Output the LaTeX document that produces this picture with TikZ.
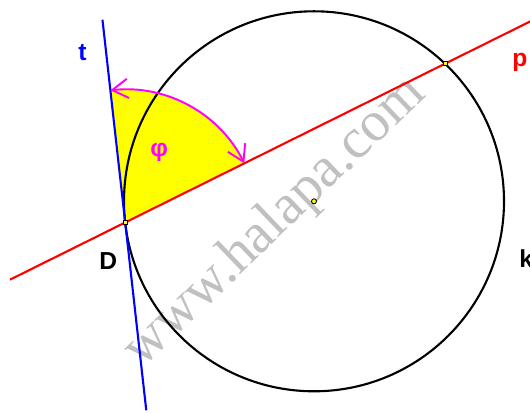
\documentclass[tikz,border=0pt]{standalone}
\usepackage{fontspec}
\setmainfont{Liberation Sans}
\newfontfamily\wmfont{Liberation Serif}
\usetikzlibrary{calc,arrows.meta}
\definecolor{angmag}{RGB}{255,0,255}
\definecolor{angyel}{RGB}{255,255,0}
\definecolor{wmgray}{RGB}{192,192,192}
\tikzset{
  lbl/.style={font=\bfseries\fontsize{14}{16}\selectfont,inner sep=0pt,anchor=base west},
  sqpt/.style={rectangle,draw,fill=angyel,minimum size=0.08cm,inner sep=0pt,line width=0.4pt},
  ctrpt/.style={circle,draw,fill=angyel,minimum size=0.1cm,inner sep=0pt,line width=0.5pt},
  ln/.style={line width=1.2pt},
  angarc/.style={line width=1.1pt,angmag,{Straight Barb[length=9pt,width=11pt]}-{Straight Barb[length=9pt,width=11pt]}}
}

\begin{document}
\begin{tikzpicture}[x=0.02cm,y=0.02cm]
\useasboundingbox (0,0) rectangle (530,412);

% Watermark, under everything
\node[text=wmgray,font=\wmfont\fontsize{32.3}{35}\selectfont,rotate=43.8,anchor=base,inner sep=0pt] (wm) at (284.9,179.8) {www.halapa.com};

% Circle k and the two points on it
\coordinate (C) at (314,210.7);
\coordinate (D) at ($(C)+(186.4:190)$);
\coordinate (E) at ($(C)+(46.4:190)$);

% Ends of p and t
\coordinate (p1) at ($(D)!-0.36!(E)$);
\coordinate (p2) at ($(D)!1.27!(E)$);
\coordinate (t1) at ($(D)+(96.4:204)$);
\coordinate (t2) at ($(D)+(276.4:189)$);

% Angle phi
\fill[angyel] (D) -- ($(D)+(26.4:133)$) arc[start angle=26.4,end angle=96.4,radius=133] -- cycle;

\draw[ln] (C) circle[radius=190];
\draw[ln,red] (p1) -- (p2);
\draw[ln,blue] (t1) -- (t2);
\draw[angarc] ($(D)+(96.4:133)$) arc[start angle=96.4,end angle=26.4,radius=133];

% Points
\node[ctrpt] (Cpt) at (C) {};
\node[sqpt] (Dpt) at (D) {};
\node[sqpt] (Ept) at (E) {};

% Labels
\node[lbl,blue] (tlbl) at (78,351.3) {t};
\node[lbl,red] (plbl) at (512,345.5) {p};
\node[lbl] (Dlbl) at (99,142.7) {D};
\node[lbl] (klbl) at (519,144) {k};
\node[lbl,angmag] (philbl) at (150,255) {φ};

\end{tikzpicture}
\end{document}
